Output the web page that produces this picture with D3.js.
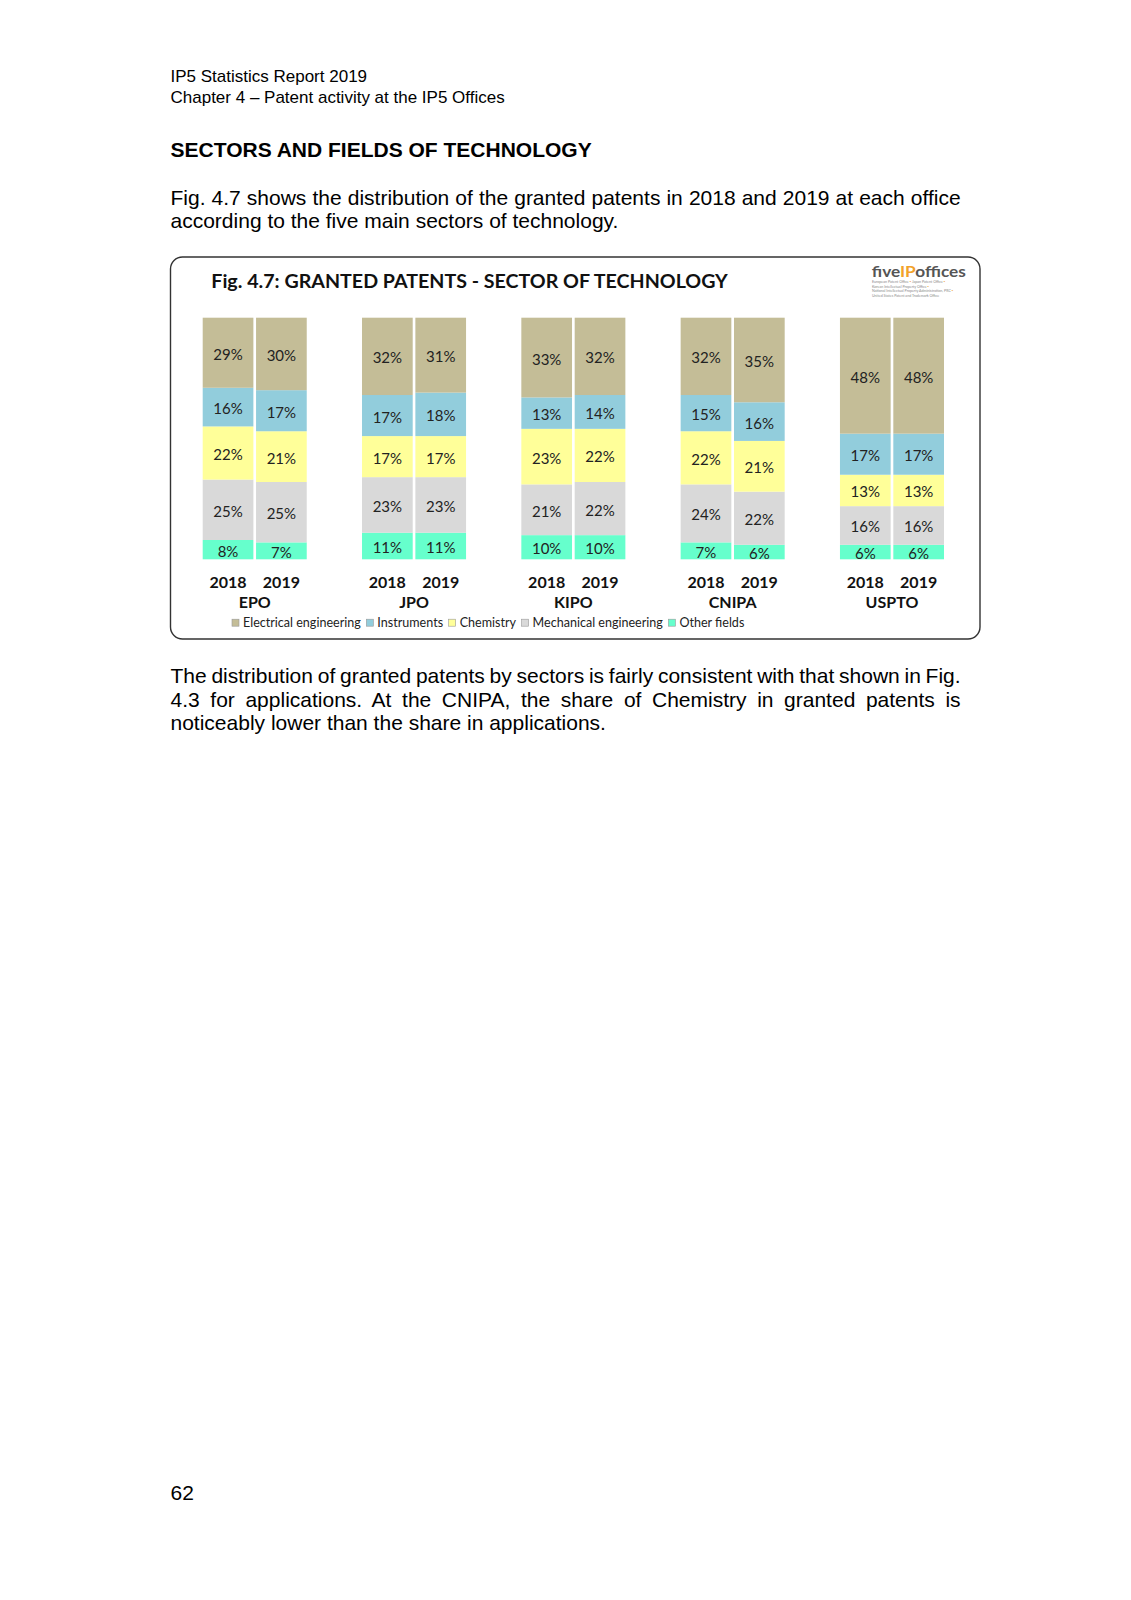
<!DOCTYPE html>
<html><head><meta charset="utf-8">
<script src="https://cdn.jsdelivr.net/npm/d3@7"></script>
<style>body{margin:0;background:#fff} svg{display:block}</style>
</head><body>
<svg id="page" width="1131" height="1600"></svg>
<script>
// ---- data ----
const offices = ["EPO", "JPO", "KIPO", "CNIPA", "USPTO"];
const years = ["2018", "2019"];
const sectors = ["Electrical engineering", "Instruments", "Chemistry", "Mechanical engineering", "Other fields"];
// values per office-year in order EPO18, EPO19, JPO18, JPO19, KIPO18, KIPO19, CNIPA18, CNIPA19, USPTO18, USPTO19
const electrical  = [29, 30, 32, 31, 33, 32, 32, 35, 48, 48];
const instruments = [16, 17, 17, 18, 13, 14, 15, 16, 17, 17];
const chemistry   = [22, 21, 17, 17, 23, 22, 22, 21, 13, 13];
const mechanical  = [25, 25, 23, 23, 21, 22, 24, 22, 16, 16];
const other       = [8, 7, 11, 11, 10, 10, 7, 6, 6, 6];

const colors = {
  "Electrical engineering": "#C4BD97",
  "Instruments": "#92CDDC",
  "Chemistry": "#FFFF99",
  "Mechanical engineering": "#D9D9D9",
  "Other fields": "#66FFCC"
};

const seriesValues = {
  "Electrical engineering": electrical,
  "Instruments": instruments,
  "Chemistry": chemistry,
  "Mechanical engineering": mechanical,
  "Other fields": other
};

// build table
const rows = [];
offices.forEach((o, i) => years.forEach((y, j) => {
  const idx = i * years.length + j;
  const r = { office: o, year: y };
  sectors.forEach(s => r[s] = seriesValues[s][idx]);
  rows.push(r);
}));

const svg = d3.select("#page");
svg.append("rect").attr("width", 1131).attr("height", 1600).attr("fill", "#fff");

const bodyFont = "'Liberation Sans', Arial, sans-serif";
const chartFont = "Lato, 'Open Sans', sans-serif";

function justify(sel, width) {
  const node = sel.node();
  const natural = node.getComputedTextLength();
  const txt = node.textContent;
  const spaces = (txt.match(/ /g) || []).length;
  if (spaces > 0) sel.style("word-spacing", ((width - natural) / spaces) + "px");
}

// ---- page header ----
const L = 170.5, R = 960.6;
svg.append("text").attr("x", L).attr("y", 76.6).attr("dominant-baseline", "central")
  .attr("font-family", bodyFont).attr("font-size", 17).text("IP5 Statistics Report 2019");
svg.append("text").attr("x", L).attr("y", 97).attr("dominant-baseline", "central")
  .attr("font-family", bodyFont).attr("font-size", 17).text("Chapter 4 \u2013 Patent activity at the IP5 Offices");
svg.append("text").attr("x", L).attr("y", 149).attr("dominant-baseline", "central")
  .attr("font-family", bodyFont).attr("font-size", 21).attr("font-weight", "bold")
  .text("SECTORS AND FIELDS OF TECHNOLOGY");

const p1 = [
  "Fig. 4.7 shows the distribution of the granted patents in 2018 and 2019 at each office",
  "according to the five main sectors of technology."
];
const p1y = [197, 220.5];
p1.forEach((t, i) => {
  const s = svg.append("text").attr("x", L).attr("y", p1y[i]).attr("dominant-baseline", "central")
    .attr("font-family", bodyFont).attr("font-size", 21).text(t);
  if (i < p1.length - 1) justify(s, R - L);
});

const p2 = [
  "The distribution of granted patents by sectors is fairly consistent with that shown in Fig.",
  "4.3 for applications. At the CNIPA, the share of Chemistry in granted patents is",
  "noticeably lower than the share in applications."
];
const p2y = [675.8, 699.2, 722.7];
p2.forEach((t, i) => {
  const s = svg.append("text").attr("x", L).attr("y", p2y[i]).attr("dominant-baseline", "central")
    .attr("font-family", bodyFont).attr("font-size", 21).text(t);
  if (i < p2.length - 1) justify(s, R - L);
});

svg.append("text").attr("x", L).attr("y", 1492.4).attr("dominant-baseline", "central")
  .attr("font-family", bodyFont).attr("font-size", 21).text("62");

// ---- chart box ----
svg.append("rect").attr("x", 170.5).attr("y", 257).attr("width", 809.5).attr("height", 382)
  .attr("rx", 12).attr("ry", 12).attr("fill", "#fff").attr("stroke", "#333").attr("stroke-width", 1.4);

svg.append("text").attr("x", 211.3).attr("y", 280.3).attr("dominant-baseline", "central")
  .attr("font-family", chartFont).attr("font-weight", "bold").attr("font-size", 19.5)
  .attr("fill", "#111").attr("textLength", 516.5).attr("lengthAdjust", "spacingAndGlyphs")
  .text("Fig. 4.7: GRANTED PATENTS - SECTOR OF TECHNOLOGY");

// logo
const logo = svg.append("text").attr("x", 871.8).attr("y", 270).attr("dominant-baseline", "central")
  .attr("font-family", chartFont).attr("font-weight", "bold").attr("font-size", 16)
  .attr("textLength", 94).attr("lengthAdjust", "spacingAndGlyphs");
logo.append("tspan").attr("fill", "#555").text("five");
logo.append("tspan").attr("fill", "#F2A22A").text("IP");
logo.append("tspan").attr("fill", "#555").text("offices");
const logoLines = [
  ["European Patent Office ", "\u25AA", " Japan Patent Office ", "\u25AA"],
  ["Korean Intellectual Property Office ", "\u25AA"],
  ["National Intellectual Property Administration, PRC ", "\u25AA"],
  ["United States Patent and Trademark Office"]
];
logoLines.forEach((parts, i) => {
  const t = svg.append("text").attr("x", 872).attr("y", 281 + i * 4.5).attr("dominant-baseline", "central")
    .attr("font-family", chartFont).attr("font-size", 3.6).attr("fill", "#8a8a8a");
  parts.forEach(p => t.append("tspan").attr("fill", p === "\u25AA" ? "#F2A22A" : "#8a8a8a").text(p));
});

// ---- scales ----
const x = d3.scaleBand().domain(offices).range([202.7, 944]).paddingInner(0.347).paddingOuter(0);
const xy = d3.scaleBand().domain(years).range([0, x.bandwidth()]).paddingInner(0.05);
const y = d3.scaleLinear().domain([0, 100]).range([559.3, 317.7]);

const stackKeys = sectors.slice().reverse(); // bottom: Other fields ... top: Electrical
const stacked = d3.stack().keys(stackKeys)(rows);

const g = svg.append("g");
const layers = g.selectAll("g.layer").data(stacked).join("g").attr("class", "layer")
  .attr("fill", d => colors[d.key]);

layers.selectAll("rect").data(d => d).join("rect")
  .attr("x", d => x(d.data.office) + xy(d.data.year))
  .attr("width", xy.bandwidth())
  .attr("y", d => y(d[1]))
  .attr("height", d => y(d[0]) - y(d[1]));

layers.selectAll("text").data(d => d.map(v => ({ v, key: d.key }))).join("text")
  .attr("x", d => x(d.v.data.office) + xy(d.v.data.year) + xy.bandwidth() / 2)
  .attr("y", d => (y(d.v[0]) + y(d.v[1])) / 2 + 1)
  .attr("text-anchor", "middle").attr("dominant-baseline", "central")
  .attr("font-family", chartFont).attr("font-size", 15).attr("fill", "#222")
  .text(d => d.v.data[d.key] + "%");

// year labels
g.selectAll("text.year").data(rows).join("text").attr("class", "year")
  .attr("x", d => x(d.office) + xy(d.year) + xy.bandwidth() / 2)
  .attr("y", 581)
  .attr("text-anchor", "middle").attr("dominant-baseline", "central")
  .attr("font-family", chartFont).attr("font-weight", "bold").attr("font-size", 16).attr("fill", "#111")
  .text(d => d.year);

// office labels
g.selectAll("text.office").data(offices).join("text").attr("class", "office")
  .attr("x", d => x(d) + x.bandwidth() / 2)
  .attr("y", 601.3)
  .attr("text-anchor", "middle").attr("dominant-baseline", "central")
  .attr("font-family", chartFont).attr("font-weight", "bold").attr("font-size", 16).attr("fill", "#111")
  .text(d => d);

// legend
let lx = 232;
const ly = 622.7;
sectors.forEach(s => {
  svg.append("rect").attr("x", lx).attr("y", ly - 3.5).attr("width", 7).attr("height", 7)
    .attr("fill", colors[s]).attr("stroke", "#999").attr("stroke-width", 0.6);
  const t = svg.append("text").attr("x", lx + 11).attr("y", ly).attr("dominant-baseline", "central")
    .attr("font-family", chartFont).attr("font-size", 12.55).attr("fill", "#222").text(s);
  lx += 11 + t.node().getComputedTextLength() + 5.6;
});
</script>
</body></html>
